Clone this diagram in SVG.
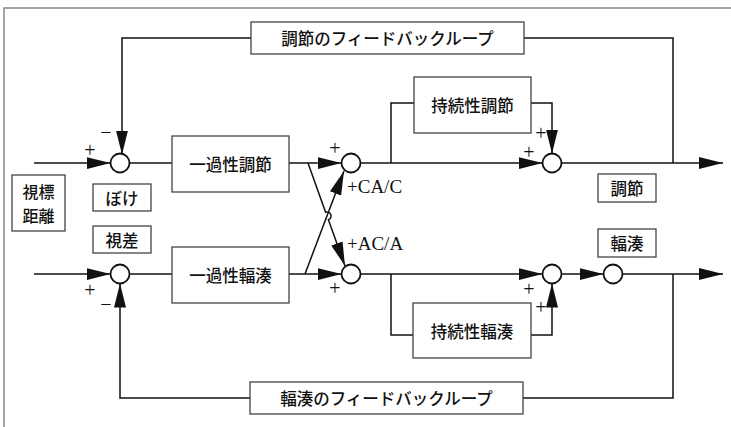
<svg xmlns="http://www.w3.org/2000/svg" width="731" height="427" viewBox="0 0 731 427">
<defs>
<style>
.frame{fill:none;stroke:#888;stroke-width:1.5}
.box{fill:#fff;stroke:#444;stroke-width:1.3}
.sum{fill:#fff;stroke:#111;stroke-width:1.8}
.ln{fill:none;stroke:#111;stroke-width:1.5}
.jp{font-family:"Noto Sans CJK JP","Noto Sans CJK SC",sans-serif;font-size:16.5px;font-weight:500;fill:#111;text-anchor:middle;dominant-baseline:central}
.sg{font-family:"Liberation Serif",serif;font-size:20px;fill:#111;text-anchor:middle;dominant-baseline:central}
.gain{font-family:"Liberation Serif",serif;font-size:19px;fill:#111}
</style>
<marker id="arr" viewBox="0 0 24 12" refX="24" refY="6" markerWidth="24" markerHeight="12" markerUnits="userSpaceOnUse" orient="auto">
<path d="M0,0 L24,6 L0,12 Z" fill="#111"/>
</marker>
</defs>
<rect width="731" height="427" fill="#fff"/>
<path class="frame" d="M4,427 V8 H731"/>

<g id="connectors">
<path class="ln" d="M34,163 H110.5" marker-end="url(#arr)"/>
<path class="ln" d="M129.5,163 H172"/>
<path class="ln" d="M289,163 H341.5" marker-end="url(#arr)"/>
<path class="ln" d="M360.5,163 H542.5" marker-end="url(#arr)"/>
<path class="ln" d="M561.5,163 H723" marker-end="url(#arr)"/>
<path class="ln" d="M391,163 V103 H414"/>
<path class="ln" d="M531,103 H552 V153.5" marker-end="url(#arr)"/>
<path class="ln" d="M673,163 V38 H524"/>
<path class="ln" d="M251,38 H122 V154.5" marker-end="url(#arr)"/>
<path class="ln" d="M34,274 H110.5" marker-end="url(#arr)"/>
<path class="ln" d="M129.5,274 H172"/>
<path class="ln" d="M289,274 H341.5" marker-end="url(#arr)"/>
<path class="ln" d="M360.5,274 H542.5" marker-end="url(#arr)"/>
<path class="ln" d="M561.5,274 H603.5" marker-end="url(#arr)"/>
<path class="ln" d="M622.5,274 H723" marker-end="url(#arr)"/>
<path class="ln" d="M673,274 V398 H523"/>
<path class="ln" d="M391,274 V335 H413"/>
<path class="ln" d="M531,335 H552 V283.5" marker-end="url(#arr)"/>
<path class="ln" d="M250,398 H120 V283.5" marker-end="url(#arr)"/>
<path class="ln" d="M305,274 L344,171" marker-end="url(#arr)"/>
<path class="ln" d="M308,163 L325.6,212.2 A4,4 0 0,1 328.4,219.8 L345,266" marker-end="url(#arr)"/>
</g>

<g id="frame-labels">
<g id="target-distance"><rect class="box" x="12" y="175" width="53" height="56"/><text class="jp" x="38.5" y="191" style="font-size:16px">視標</text><text class="jp" x="38.5" y="215" style="font-size:16px">距離</text></g>
<g id="blur"><rect class="box" x="93" y="184" width="58" height="27"/><text class="jp" x="122" y="197.5">ぼけ</text></g>
<g id="disparity"><rect class="box" x="93" y="226" width="58" height="27"/><text class="jp" x="122" y="239.5">視差</text></g>
</g>

<g id="sum-acc1"><circle class="sum" cx="120" cy="163" r="9.5"/></g>
<g id="sum-acc2"><circle class="sum" cx="351" cy="163" r="9.5"/></g>
<g id="sum-acc3"><circle class="sum" cx="552" cy="163" r="9.5"/></g>
<g id="sum-ver1"><circle class="sum" cx="120" cy="274" r="9.5"/></g>
<g id="sum-ver2"><circle class="sum" cx="351" cy="274" r="9.5"/></g>
<g id="sum-ver3"><circle class="sum" cx="552" cy="274" r="9.5"/></g>
<g id="sum-ver4"><circle class="sum" cx="613" cy="274" r="9.5"/></g>

<g id="acc-feedback"><rect class="box" x="251" y="22" width="273" height="32"/><text class="jp" x="387.5" y="38">調節のフィードバックループ</text></g>
<g id="phasic-acc"><rect class="box" x="172" y="136" width="117" height="56"/><text class="jp" x="230.5" y="164">一過性調節</text></g>
<g id="tonic-acc"><rect class="box" x="414" y="77" width="117" height="56"/><text class="jp" x="472.5" y="105">持続性調節</text></g>
<g id="acc-out"><rect class="box" x="598" y="174" width="58" height="28"/><text class="jp" x="627" y="188">調節</text></g>
<g id="phasic-ver"><rect class="box" x="172" y="247" width="117" height="56"/><text class="jp" x="230.5" y="275">一過性輻湊</text></g>
<g id="tonic-ver"><rect class="box" x="413" y="303" width="118" height="55"/><text class="jp" x="472" y="330.5">持続性輻湊</text></g>
<g id="ver-out"><rect class="box" x="598" y="229" width="58" height="28"/><text class="jp" x="627" y="243">輻湊</text></g>
<g id="ver-feedback"><rect class="box" x="250" y="382" width="273" height="32"/><text class="jp" x="386.5" y="398">輻湊のフィードバックループ</text></g>

<g id="signs">
<text class="sg" x="90" y="150">+</text>
<text class="sg" x="106" y="132">−</text>
<text class="sg" x="335" y="148">+</text>
<text class="sg" x="529" y="152">+</text>
<text class="sg" x="541" y="133">+</text>
<text class="sg" x="90" y="290">+</text>
<text class="sg" x="106" y="304">−</text>
<text class="sg" x="335" y="288">+</text>
<text class="sg" x="529" y="289">+</text>
<text class="sg" x="541" y="307">+</text>
<text class="gain" x="347" y="193">+CA/C</text>
<text class="gain" x="347" y="250">+AC/A</text>
</g>
</svg>
